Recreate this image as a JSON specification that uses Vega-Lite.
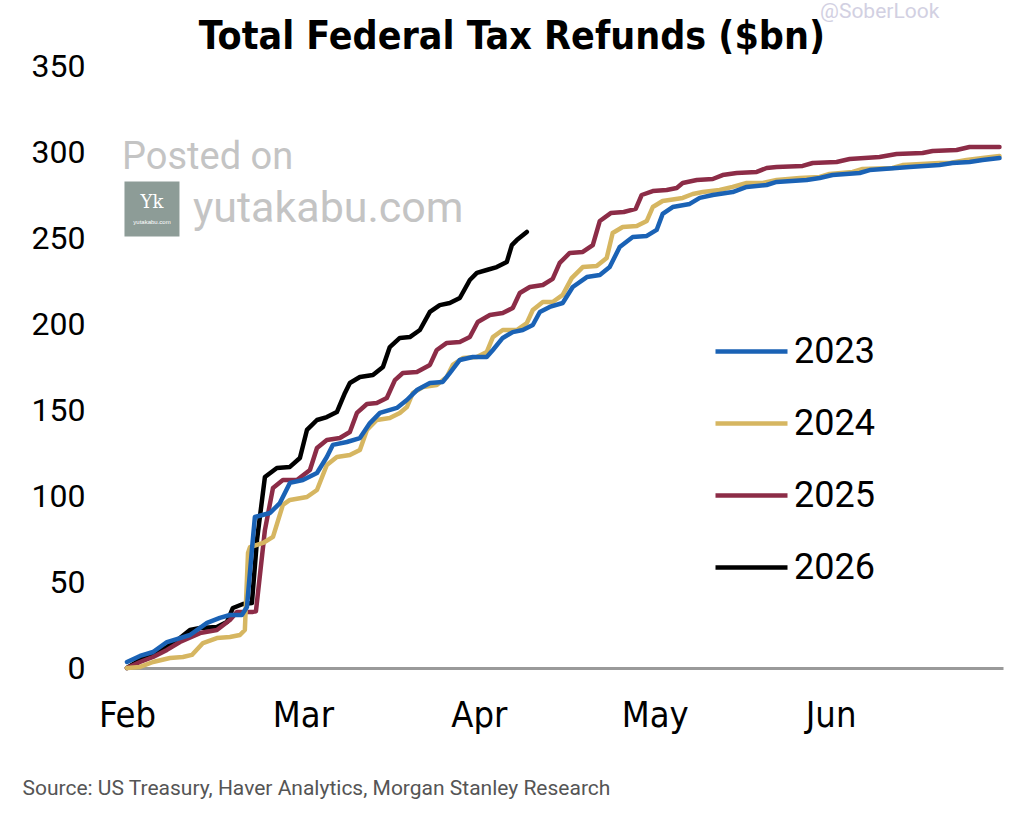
{
  "$schema": "https://vega.github.io/schema/vega-lite/v6.json",
  "width": 876,
  "height": 602,
  "autosize": {"type": "none"},
  "padding": {"left": 127, "top": 66, "right": 21, "bottom": 151},
  "background": "white",
  "config": {"view": {"stroke": null}},
  "datasets": {
    "refunds": [
      {"year": "2026", "m": 0, "v": 0}, {"year": "2026", "m": 0.074, "v": 4.7}, {"year": "2026", "m": 0.148, "v": 8.7}, {"year": "2026", "m": 0.227, "v": 12.2}, {"year": "2026", "m": 0.301, "v": 17.4}, {"year": "2026", "m": 0.358, "v": 22.1}, {"year": "2026", "m": 0.415, "v": 23.3}, {"year": "2026", "m": 0.511, "v": 23.8}, {"year": "2026", "m": 0.568, "v": 26.7}, {"year": "2026", "m": 0.602, "v": 34.9}, {"year": "2026", "m": 0.659, "v": 37.2}, {"year": "2026", "m": 0.71, "v": 37.8}, {"year": "2026", "m": 0.739, "v": 74.4}, {"year": "2026", "m": 0.784, "v": 111.0}, {"year": "2026", "m": 0.852, "v": 116.3}, {"year": "2026", "m": 0.926, "v": 116.9}, {"year": "2026", "m": 0.983, "v": 122.1}, {"year": "2026", "m": 1.023, "v": 138.4}, {"year": "2026", "m": 1.08, "v": 144.2}, {"year": "2026", "m": 1.136, "v": 145.9}, {"year": "2026", "m": 1.193, "v": 148.8}, {"year": "2026", "m": 1.239, "v": 159.9}, {"year": "2026", "m": 1.267, "v": 165.7}, {"year": "2026", "m": 1.324, "v": 169.2}, {"year": "2026", "m": 1.398, "v": 170.3}, {"year": "2026", "m": 1.455, "v": 175.0}, {"year": "2026", "m": 1.494, "v": 186.6}, {"year": "2026", "m": 1.551, "v": 191.9}, {"year": "2026", "m": 1.608, "v": 192.4}, {"year": "2026", "m": 1.665, "v": 196.5}, {"year": "2026", "m": 1.722, "v": 207.0}, {"year": "2026", "m": 1.778, "v": 211.0}, {"year": "2026", "m": 1.835, "v": 212.2}, {"year": "2026", "m": 1.892, "v": 215.1}, {"year": "2026", "m": 1.949, "v": 225.6}, {"year": "2026", "m": 1.989, "v": 229.7}, {"year": "2026", "m": 2.045, "v": 231.4}, {"year": "2026", "m": 2.102, "v": 233.1}, {"year": "2026", "m": 2.159, "v": 236.0}, {"year": "2026", "m": 2.188, "v": 245.9}, {"year": "2026", "m": 2.216, "v": 248.8}, {"year": "2026", "m": 2.273, "v": 253.5},

      {"year": "2025", "m": 0, "v": 0}, {"year": "2025", "m": 0.074, "v": 3.5}, {"year": "2025", "m": 0.148, "v": 6.4}, {"year": "2025", "m": 0.227, "v": 10.5}, {"year": "2025", "m": 0.301, "v": 15.1}, {"year": "2025", "m": 0.415, "v": 20.3}, {"year": "2025", "m": 0.511, "v": 22.1}, {"year": "2025", "m": 0.585, "v": 27.9}, {"year": "2025", "m": 0.625, "v": 32.6}, {"year": "2025", "m": 0.716, "v": 32.6}, {"year": "2025", "m": 0.733, "v": 33.0}, {"year": "2025", "m": 0.784, "v": 80.2}, {"year": "2025", "m": 0.83, "v": 104.7}, {"year": "2025", "m": 0.886, "v": 109.3}, {"year": "2025", "m": 0.966, "v": 109.3}, {"year": "2025", "m": 1.04, "v": 115.1}, {"year": "2025", "m": 1.08, "v": 127.9}, {"year": "2025", "m": 1.136, "v": 132.6}, {"year": "2025", "m": 1.21, "v": 133.7}, {"year": "2025", "m": 1.267, "v": 137.2}, {"year": "2025", "m": 1.307, "v": 148.3}, {"year": "2025", "m": 1.364, "v": 153.5}, {"year": "2025", "m": 1.42, "v": 154.1}, {"year": "2025", "m": 1.477, "v": 157.0}, {"year": "2025", "m": 1.523, "v": 167.4}, {"year": "2025", "m": 1.568, "v": 171.5}, {"year": "2025", "m": 1.648, "v": 172.1}, {"year": "2025", "m": 1.722, "v": 176.2}, {"year": "2025", "m": 1.761, "v": 184.9}, {"year": "2025", "m": 1.818, "v": 189.0}, {"year": "2025", "m": 1.892, "v": 189.5}, {"year": "2025", "m": 1.949, "v": 192.4}, {"year": "2025", "m": 1.994, "v": 201.2}, {"year": "2025", "m": 2.063, "v": 205.2}, {"year": "2025", "m": 2.136, "v": 206.4}, {"year": "2025", "m": 2.193, "v": 209.3}, {"year": "2025", "m": 2.233, "v": 218.0}, {"year": "2025", "m": 2.29, "v": 221.5}, {"year": "2025", "m": 2.364, "v": 222.7}, {"year": "2025", "m": 2.42, "v": 226.2}, {"year": "2025", "m": 2.46, "v": 235.5}, {"year": "2025", "m": 2.517, "v": 241.3}, {"year": "2025", "m": 2.591, "v": 241.9}, {"year": "2025", "m": 2.648, "v": 245.9}, {"year": "2025", "m": 2.688, "v": 259.9}, {"year": "2025", "m": 2.75, "v": 264.5}, {"year": "2025", "m": 2.824, "v": 265.1}, {"year": "2025", "m": 2.892, "v": 266.9}, {"year": "2025", "m": 2.926, "v": 275.0}, {"year": "2025", "m": 2.989, "v": 277.3}, {"year": "2025", "m": 3.068, "v": 277.9}, {"year": "2025", "m": 3.125, "v": 279.1}, {"year": "2025", "m": 3.159, "v": 282.0}, {"year": "2025", "m": 3.239, "v": 283.7}, {"year": "2025", "m": 3.33, "v": 284.3}, {"year": "2025", "m": 3.386, "v": 286.6}, {"year": "2025", "m": 3.466, "v": 287.8}, {"year": "2025", "m": 3.58, "v": 288.4}, {"year": "2025", "m": 3.636, "v": 290.7}, {"year": "2025", "m": 3.693, "v": 291.3}, {"year": "2025", "m": 3.841, "v": 291.9}, {"year": "2025", "m": 3.898, "v": 293.6}, {"year": "2025", "m": 4.034, "v": 294.2}, {"year": "2025", "m": 4.108, "v": 295.9}, {"year": "2025", "m": 4.278, "v": 297.1}, {"year": "2025", "m": 4.375, "v": 298.8}, {"year": "2025", "m": 4.523, "v": 299.4}, {"year": "2025", "m": 4.58, "v": 300.6}, {"year": "2025", "m": 4.716, "v": 301.2}, {"year": "2025", "m": 4.79, "v": 302.9}, {"year": "2025", "m": 4.96, "v": 302.9},

      {"year": "2024", "m": 0, "v": 0}, {"year": "2024", "m": 0.074, "v": 0.6}, {"year": "2024", "m": 0.148, "v": 3.5}, {"year": "2024", "m": 0.244, "v": 5.8}, {"year": "2024", "m": 0.318, "v": 6.4}, {"year": "2024", "m": 0.369, "v": 7.6}, {"year": "2024", "m": 0.432, "v": 14.5}, {"year": "2024", "m": 0.511, "v": 17.4}, {"year": "2024", "m": 0.585, "v": 18.0}, {"year": "2024", "m": 0.642, "v": 19.2}, {"year": "2024", "m": 0.67, "v": 22.1}, {"year": "2024", "m": 0.688, "v": 66.9}, {"year": "2024", "m": 0.699, "v": 70.3}, {"year": "2024", "m": 0.773, "v": 72.7}, {"year": "2024", "m": 0.83, "v": 76.2}, {"year": "2024", "m": 0.886, "v": 94.8}, {"year": "2024", "m": 0.926, "v": 97.7}, {"year": "2024", "m": 1.023, "v": 99.4}, {"year": "2024", "m": 1.08, "v": 103.5}, {"year": "2024", "m": 1.136, "v": 118.0}, {"year": "2024", "m": 1.193, "v": 122.7}, {"year": "2024", "m": 1.267, "v": 123.8}, {"year": "2024", "m": 1.324, "v": 126.7}, {"year": "2024", "m": 1.364, "v": 138.4}, {"year": "2024", "m": 1.42, "v": 144.2}, {"year": "2024", "m": 1.494, "v": 145.3}, {"year": "2024", "m": 1.551, "v": 148.3}, {"year": "2024", "m": 1.591, "v": 151.7}, {"year": "2024", "m": 1.625, "v": 159.9}, {"year": "2024", "m": 1.682, "v": 163.4}, {"year": "2024", "m": 1.761, "v": 164.5}, {"year": "2024", "m": 1.818, "v": 169.2}, {"year": "2024", "m": 1.852, "v": 176.2}, {"year": "2024", "m": 1.909, "v": 180.2}, {"year": "2024", "m": 1.989, "v": 180.8}, {"year": "2024", "m": 2.045, "v": 183.7}, {"year": "2024", "m": 2.08, "v": 192.4}, {"year": "2024", "m": 2.136, "v": 196.5}, {"year": "2024", "m": 2.216, "v": 196.5}, {"year": "2024", "m": 2.273, "v": 200.6}, {"year": "2024", "m": 2.307, "v": 208.1}, {"year": "2024", "m": 2.364, "v": 212.8}, {"year": "2024", "m": 2.42, "v": 212.8}, {"year": "2024", "m": 2.477, "v": 216.9}, {"year": "2024", "m": 2.528, "v": 226.7}, {"year": "2024", "m": 2.591, "v": 233.1}, {"year": "2024", "m": 2.67, "v": 233.7}, {"year": "2024", "m": 2.727, "v": 238.4}, {"year": "2024", "m": 2.761, "v": 252.9}, {"year": "2024", "m": 2.818, "v": 256.4}, {"year": "2024", "m": 2.898, "v": 257.0}, {"year": "2024", "m": 2.955, "v": 259.9}, {"year": "2024", "m": 2.989, "v": 268.0}, {"year": "2024", "m": 3.045, "v": 271.5}, {"year": "2024", "m": 3.159, "v": 273.3}, {"year": "2024", "m": 3.216, "v": 275.6}, {"year": "2024", "m": 3.273, "v": 276.7}, {"year": "2024", "m": 3.369, "v": 277.9}, {"year": "2024", "m": 3.443, "v": 279.7}, {"year": "2024", "m": 3.523, "v": 282.0}, {"year": "2024", "m": 3.614, "v": 282.0}, {"year": "2024", "m": 3.693, "v": 283.7}, {"year": "2024", "m": 3.824, "v": 284.9}, {"year": "2024", "m": 3.938, "v": 285.5}, {"year": "2024", "m": 3.994, "v": 287.2}, {"year": "2024", "m": 4.125, "v": 288.4}, {"year": "2024", "m": 4.182, "v": 290.1}, {"year": "2024", "m": 4.352, "v": 290.7}, {"year": "2024", "m": 4.409, "v": 292.4}, {"year": "2024", "m": 4.619, "v": 293.6}, {"year": "2024", "m": 4.676, "v": 293.6}, {"year": "2024", "m": 4.773, "v": 295.3}, {"year": "2024", "m": 4.864, "v": 296.5}, {"year": "2024", "m": 4.96, "v": 297.7},

      {"year": "2023", "m": 0, "v": 3.5}, {"year": "2023", "m": 0.074, "v": 7.0}, {"year": "2023", "m": 0.148, "v": 9.3}, {"year": "2023", "m": 0.227, "v": 15.1}, {"year": "2023", "m": 0.301, "v": 17.4}, {"year": "2023", "m": 0.358, "v": 19.2}, {"year": "2023", "m": 0.455, "v": 26.2}, {"year": "2023", "m": 0.528, "v": 29.1}, {"year": "2023", "m": 0.585, "v": 30.8}, {"year": "2023", "m": 0.653, "v": 30.8}, {"year": "2023", "m": 0.682, "v": 35.5}, {"year": "2023", "m": 0.71, "v": 68.6}, {"year": "2023", "m": 0.727, "v": 87.8}, {"year": "2023", "m": 0.813, "v": 90.1}, {"year": "2023", "m": 0.869, "v": 95.9}, {"year": "2023", "m": 0.926, "v": 107.6}, {"year": "2023", "m": 1.0, "v": 109.3}, {"year": "2023", "m": 1.08, "v": 113.4}, {"year": "2023", "m": 1.136, "v": 122.7}, {"year": "2023", "m": 1.17, "v": 129.7}, {"year": "2023", "m": 1.25, "v": 131.4}, {"year": "2023", "m": 1.324, "v": 133.7}, {"year": "2023", "m": 1.381, "v": 142.4}, {"year": "2023", "m": 1.438, "v": 148.3}, {"year": "2023", "m": 1.534, "v": 151.2}, {"year": "2023", "m": 1.591, "v": 155.8}, {"year": "2023", "m": 1.648, "v": 161.6}, {"year": "2023", "m": 1.722, "v": 165.7}, {"year": "2023", "m": 1.795, "v": 166.3}, {"year": "2023", "m": 1.835, "v": 171.5}, {"year": "2023", "m": 1.892, "v": 179.1}, {"year": "2023", "m": 1.966, "v": 180.8}, {"year": "2023", "m": 2.045, "v": 180.8}, {"year": "2023", "m": 2.08, "v": 184.9}, {"year": "2023", "m": 2.136, "v": 191.9}, {"year": "2023", "m": 2.193, "v": 195.3}, {"year": "2023", "m": 2.25, "v": 196.5}, {"year": "2023", "m": 2.307, "v": 199.4}, {"year": "2023", "m": 2.347, "v": 207.0}, {"year": "2023", "m": 2.403, "v": 209.9}, {"year": "2023", "m": 2.477, "v": 212.2}, {"year": "2023", "m": 2.534, "v": 221.5}, {"year": "2023", "m": 2.614, "v": 227.3}, {"year": "2023", "m": 2.688, "v": 228.5}, {"year": "2023", "m": 2.744, "v": 233.1}, {"year": "2023", "m": 2.801, "v": 244.8}, {"year": "2023", "m": 2.875, "v": 250.6}, {"year": "2023", "m": 2.955, "v": 251.2}, {"year": "2023", "m": 3.011, "v": 254.7}, {"year": "2023", "m": 3.045, "v": 264.0}, {"year": "2023", "m": 3.102, "v": 268.0}, {"year": "2023", "m": 3.199, "v": 269.8}, {"year": "2023", "m": 3.256, "v": 273.3}, {"year": "2023", "m": 3.33, "v": 275.0}, {"year": "2023", "m": 3.443, "v": 276.7}, {"year": "2023", "m": 3.523, "v": 279.7}, {"year": "2023", "m": 3.636, "v": 280.8}, {"year": "2023", "m": 3.693, "v": 282.6}, {"year": "2023", "m": 3.864, "v": 283.7}, {"year": "2023", "m": 3.938, "v": 284.9}, {"year": "2023", "m": 4.011, "v": 286.6}, {"year": "2023", "m": 4.165, "v": 287.8}, {"year": "2023", "m": 4.222, "v": 289.5}, {"year": "2023", "m": 4.375, "v": 290.7}, {"year": "2023", "m": 4.449, "v": 291.3}, {"year": "2023", "m": 4.619, "v": 292.4}, {"year": "2023", "m": 4.693, "v": 293.6}, {"year": "2023", "m": 4.79, "v": 294.2}, {"year": "2023", "m": 4.864, "v": 295.3}, {"year": "2023", "m": 4.96, "v": 296.5}
    ],
    "notes": [
      {"label": "Posted on", "m": -0.028, "v": 296.5, "size": 38, "color": "#c4c4c4"},
      {"label": "yutakabu.com", "m": 0.375, "v": 266.9, "size": 43, "color": "#c4c4c4"},
      {"label": "@SoberLook", "m": 3.94, "v": 381.4, "size": 21, "color": "#d2d0e2"}
    ],
    "titles": [
      {"label": "Total Federal Tax Refunds ($bn)", "m": 2.188, "v": 367}
    ],
    "logo": [{"m": 0.142, "v": 266.9}]
  },
  "layer": [
    {
      "data": {"name": "logo"},
      "mark": {"type": "square", "size": 3025, "color": "#8d9c97", "opacity": 1, "clip": false},
      "encoding": {
        "x": {"field": "m", "type": "quantitative"},
        "y": {"field": "v", "type": "quantitative"}
      }
    },
    {
      "data": {"name": "logo"},
      "mark": {"type": "text", "text": "Yk", "color": "white", "fontSize": 18, "font": "DejaVu Serif", "dy": -6, "align": "center", "baseline": "middle"},
      "encoding": {
        "x": {"field": "m", "type": "quantitative"},
        "y": {"field": "v", "type": "quantitative"}
      }
    },
    {
      "data": {"name": "logo"},
      "mark": {"type": "text", "text": "yutakabu.com", "color": "white", "fontSize": 6, "dy": 13, "align": "center", "baseline": "middle"},
      "encoding": {
        "x": {"field": "m", "type": "quantitative"},
        "y": {"field": "v", "type": "quantitative"}
      }
    },
    {
      "data": {"name": "notes"},
      "mark": {"type": "text", "align": "left", "baseline": "middle", "font": "Roboto", "clip": false},
      "encoding": {
        "x": {"field": "m", "type": "quantitative"},
        "y": {"field": "v", "type": "quantitative"},
        "text": {"field": "label"},
        "size": {"field": "size", "type": "quantitative", "scale": null},
        "color": {"field": "color", "type": "nominal", "scale": null}
      }
    },
    {
      "data": {"name": "titles"},
      "mark": {"type": "text", "align": "center", "baseline": "middle", "font": "Liberation Sans Narrow, DejaVu Sans Condensed, Roboto", "fontWeight": "bold", "fontSize": 39, "color": "#000000", "clip": false},
      "encoding": {
        "x": {"field": "m", "type": "quantitative"},
        "y": {"field": "v", "type": "quantitative"},
        "text": {"field": "label"}
      }
    },
    {
      "data": {"name": "refunds"},
      "mark": {"type": "line", "strokeJoin": "round", "strokeCap": "round", "interpolate": "linear"},
      "encoding": {
        "x": {
          "field": "m",
          "type": "quantitative",
          "scale": {"domain": [0, 4.98], "nice": false, "zero": false},
          "axis": {
            "values": [0, 1, 2, 3, 4],
            "labelExpr": "['Feb','Mar','Apr','May','Jun'][datum.value]",
            "labelFont": "Liberation Sans Narrow, DejaVu Sans Condensed, Roboto",
            "labelFontSize": 36,
            "labelColor": "#000000",
            "labelPadding": 47,
            "labelBaseline": "middle",
            "labelFlush": false,
            "labelAlign": "center",
            "ticks": false,
            "grid": false,
            "domainColor": "#9a9a9a",
            "domainWidth": 3,
            "title": "Source: US Treasury, Haver Analytics, Morgan Stanley Research",
            "titleFont": "Roboto",
            "titleFontSize": 21,
            "titleFontWeight": "normal",
            "titleColor": "#555555",
            "titleAnchor": "start",
            "titleAlign": "left",
            "titleBaseline": "middle",
            "titleX": -105,
            "titleY": 120
          }
        },
        "y": {
          "field": "v",
          "type": "quantitative",
          "scale": {"domain": [0, 350], "nice": false},
          "axis": {
            "values": [0, 50, 100, 150, 200, 250, 300, 350],
            "labelFont": "Roboto",
            "labelFontSize": 32,
            "labelColor": "#000000",
            "labelPadding": 42,
            "labelFlush": false,
            "ticks": false,
            "grid": false,
            "domain": false,
            "title": null
          }
        },
        "color": {
          "field": "year",
          "type": "ordinal",
          "scale": {"domain": ["2023", "2024", "2025", "2026"], "range": ["#1a62b5", "#d6b661", "#8c2c47", "#000000"]},
          "legend": {
            "orient": "none",
            "legendX": 586,
            "legendY": 247,
            "title": null,
            "symbolType": "stroke",
            "symbolSize": 5184,
            "symbolStrokeWidth": 4,
            "labelFont": "Roboto",
            "labelFontSize": 36,
            "labelColor": "#000000",
            "labelOffset": 4,
            "rowPadding": 15
          }
        },
        "strokeWidth": {
          "field": "year",
          "type": "ordinal",
          "scale": {"domain": ["2023", "2024", "2025", "2026"], "range": [4.5, 4.5, 4.5, 7]},
          "legend": null
        },
        "order": {"field": "m", "type": "quantitative"}
      }
    }
  ]
}
